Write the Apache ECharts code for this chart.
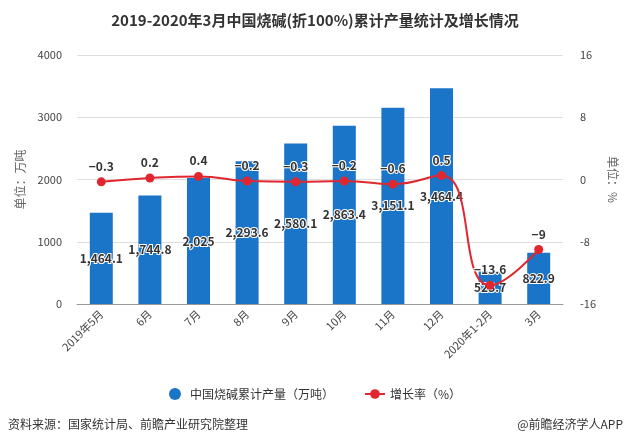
<!DOCTYPE html>
<html><head><meta charset="utf-8">
<script src="https://cdn.jsdelivr.net/npm/echarts@6/dist/echarts.min.js"></script>
<style>html,body{margin:0;padding:0;background:#fff}#c{width:630px;height:447px}</style>
</head><body><div id="c"></div>
<script>
var categories = ['2019年5月','6月','7月','8月','9月','10月','11月','12月','2020年1-2月','3月'];
var production = [1464.1, 1744.8, 2025, 2293.6, 2580.1, 2863.4, 3151.1, 3464.4, 523.7, 822.9];
var growth = [-0.3, 0.2, 0.4, -0.2, -0.3, -0.2, -0.6, 0.5, -13.6, -9];
var leftTicks = {min: 0, max: 4000, interval: 1000};
var rightTicks = {min: -16, max: 16, interval: 8};

var font = '"Microsoft YaHei","Noto Sans CJK SC",sans-serif';
var chart = echarts.init(document.getElementById('c'), null, {renderer: 'canvas'});
chart.setOption({
  backgroundColor: '#fff',
  animation: false,
  textStyle: {fontFamily: font},
  title: {
    text: '2019-2020年3月中国烧碱(折100%)累计产量统计及增长情况',
    left: 'center', top: 8,
    textStyle: {fontSize: 15, fontWeight: 'bold', color: '#333', fontFamily: font}
  },
  grid: {left: 77, right: 67, top: 55, bottom: 143},
  legend: {
    bottom: 42, left: 'center', itemGap: 30,
    textStyle: {fontSize: 12, color: '#333', fontFamily: font},
    data: [
      {name: '中国烧碱累计产量（万吨）', icon: 'circle'},
      {name: '增长率（%）'}
    ],
    itemWidth: 20, itemHeight: 12
  },
  xAxis: {
    type: 'category', data: categories,
    axisLine: {lineStyle: {color: '#999'}},
    axisTick: {alignWithLabel: true, lineStyle: {color: '#999'}},
    axisLabel: {rotate: 45, fontSize: 11, color: '#444', interval: 0, margin: 8}
  },
  yAxis: [{
    type: 'value', min: leftTicks.min, max: leftTicks.max, interval: leftTicks.interval,
    name: '单位：万吨', nameLocation: 'middle', nameGap: 48,
    nameTextStyle: {color: '#666', fontSize: 12},
    axisLine: {show: false}, axisTick: {show: false},
    axisLabel: {color: '#444', fontSize: 11, margin: 15, formatter: function (v) { return String(v); }},
    splitLine: {lineStyle: {color: '#ddd'}}
  }, {
    type: 'value', min: rightTicks.min, max: rightTicks.max, interval: rightTicks.interval,
    name: '单位：%', nameLocation: 'middle', nameGap: 40, nameRotate: -90,
    nameTextStyle: {color: '#666', fontSize: 12},
    axisLine: {show: false}, axisTick: {show: false},
    axisLabel: {color: '#444', fontSize: 11, margin: 17},
    splitLine: {show: false}
  }],
  series: [{
    name: '中国烧碱累计产量（万吨）', type: 'bar', data: production,
    barWidth: 23,
    itemStyle: {color: '#1a75c9'},
    label: {
      show: true, position: 'inside', fontSize: 12, fontWeight: 'bold', color: '#333',
      textBorderColor: '#fff', textBorderWidth: 2,
      formatter: function (p) { return p.value.toLocaleString('en-US'); }
    }
  }, {
    name: '增长率（%）', type: 'line', yAxisIndex: 1, data: growth,
    smooth: true, symbol: 'circle', symbolSize: 9,
    itemStyle: {color: '#e0262f'}, lineStyle: {color: '#e0262f', width: 2},
    label: {
      show: true, position: 'top', fontSize: 12, fontWeight: 'bold', color: '#333',
      textBorderColor: '#fff', textBorderWidth: 2,
      formatter: function (p) { return String(p.value).replace('-', '−'); }
    }
  }],
  graphic: [{
    type: 'text', left: 8, top: 418,
    style: {text: '资料来源：国家统计局、前瞻产业研究院整理', fontSize: 12, fill: '#333', fontFamily: font}
  }, {
    type: 'text', right: 7, top: 418,
    style: {text: '@前瞻经济学人APP', fontSize: 12, fill: '#333', fontFamily: font}
  }]
});
</script></body></html>
